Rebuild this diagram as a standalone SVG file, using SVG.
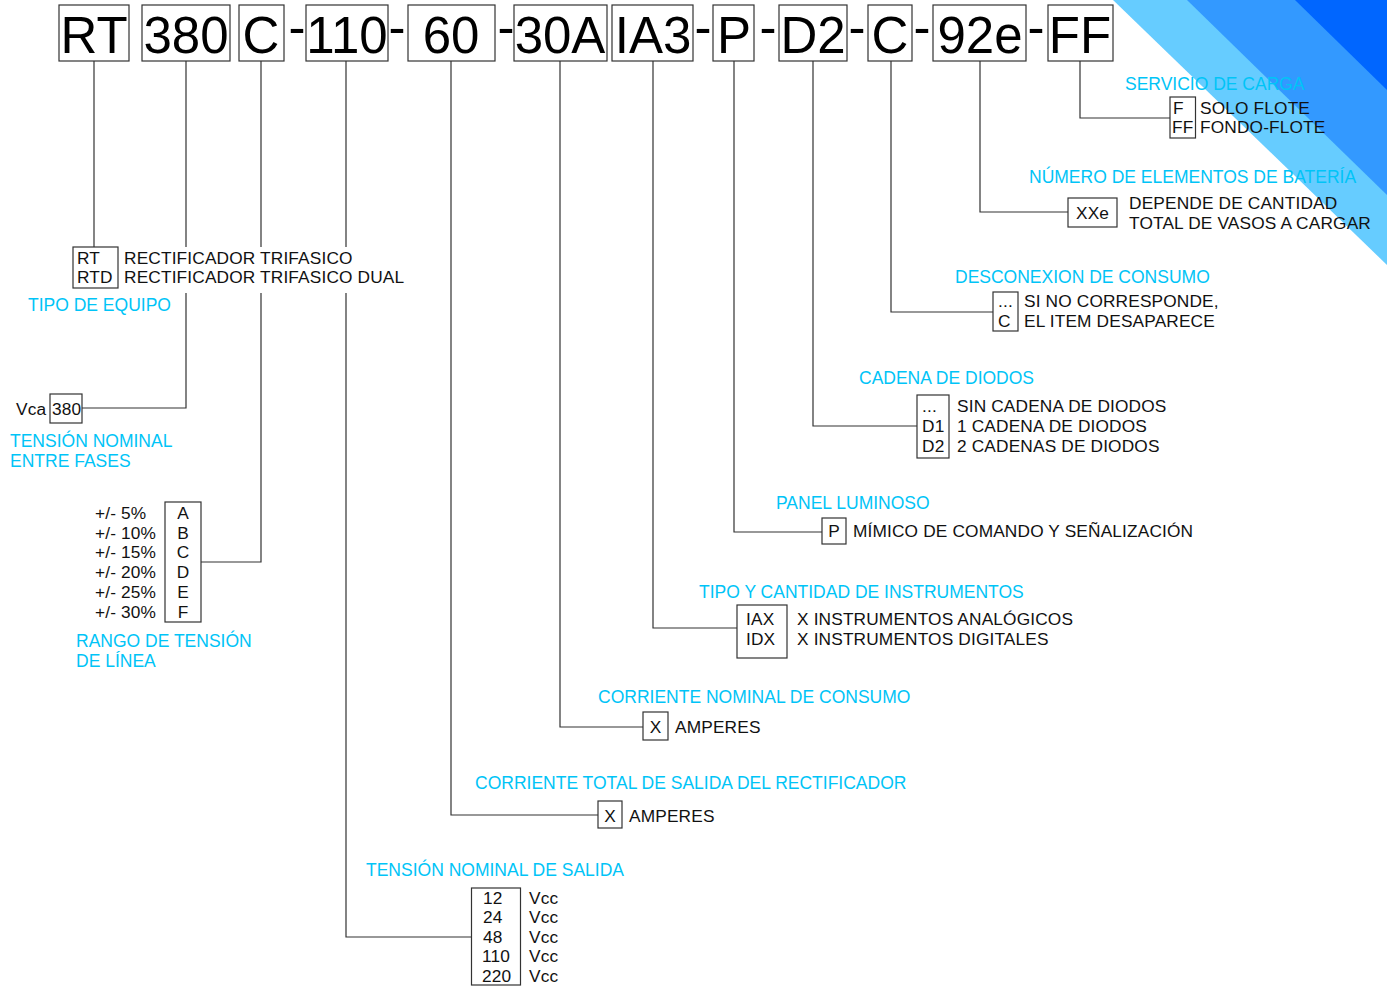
<svg xmlns="http://www.w3.org/2000/svg" width="1387" height="986" viewBox="0 0 1387 986">
<style>
.bx{fill:none;stroke:#333;stroke-width:1.2}
.ln{fill:none;stroke:#333;stroke-width:1.2}
.hd{font-family:"Liberation Sans",Arial,sans-serif;font-size:51px;fill:#000;text-anchor:middle}
.t{font-family:"Liberation Sans",Arial,sans-serif;font-size:17.3px;fill:#111;letter-spacing:0.15px}
.c{font-family:"Liberation Sans",Arial,sans-serif;font-size:17.5px;fill:#00C4F7}
.m{text-anchor:middle}
</style>
<rect width="1387" height="986" fill="#fff"/>
<g id="corner">
<polygon points="1113,0 1387,0 1387,265" fill="#66CCFF"/>
<polygon points="1187,0 1387,0 1387,195" fill="#3399FF"/>
<polygon points="1295,0 1387,0 1387,90" fill="#0066FF"/>
</g>
<g id="connectors">
<path class="ln" d="M94,61V247"/>
<path class="ln" d="M186,61V247M186,293V408H82"/>
<path class="ln" d="M261,61V247M261,293V562H201"/>
<path class="ln" d="M346,61V247M346,293V937H471"/>
<path class="ln" d="M451,61V815H598"/>
<path class="ln" d="M560,61V727H643"/>
<path class="ln" d="M653,61V628H737"/>
<path class="ln" d="M734,61V532H822"/>
<path class="ln" d="M813,61V426H917"/>
<path class="ln" d="M891,61V312H993"/>
<path class="ln" d="M980,61V212H1068"/>
<path class="ln" d="M1080,61V118H1170"/>
</g>
<g id="header">
<rect class="bx" x="59" y="5" width="70" height="56"/><text class="hd" x="94" y="53">RT</text>
<rect class="bx" x="142" y="5" width="88" height="56"/><text class="hd" x="186" y="53">380</text>
<rect class="bx" x="239" y="5" width="45" height="56"/><text class="hd" x="261" y="53">C</text>
<text class="hd" x="297" y="45">-</text>
<rect class="bx" x="306" y="5" width="82" height="56"/><text class="hd" x="347" y="53">110</text>
<text class="hd" x="397" y="45">-</text>
<rect class="bx" x="408" y="5" width="87" height="56"/><text class="hd" x="451" y="53">60</text>
<text class="hd" x="506" y="45">-</text>
<rect class="bx" x="514" y="5" width="93" height="56"/><text class="hd" x="560" y="53">30A</text>
<rect class="bx" x="612" y="5" width="81" height="56"/><text class="hd" x="653" y="53">IA3</text>
<text class="hd" x="703" y="45">-</text>
<rect class="bx" x="713" y="5" width="41" height="56"/><text class="hd" x="734" y="53">P</text>
<text class="hd" x="768" y="45">-</text>
<rect class="bx" x="779" y="5" width="68" height="56"/><text class="hd" x="813" y="53">D2</text>
<text class="hd" x="857" y="45">-</text>
<rect class="bx" x="868" y="5" width="44" height="56"/><text class="hd" x="890" y="53">C</text>
<text class="hd" x="922" y="45">-</text>
<rect class="bx" x="933" y="5" width="93" height="56"/><text class="hd" x="980" y="53">92e</text>
<text class="hd" x="1036" y="45">-</text>
<rect class="bx" x="1048" y="5" width="65" height="56"/><text class="hd" x="1080" y="53">FF</text>
</g>
<g id="tipo-equipo">
<rect class="bx" x="73" y="247" width="45" height="41"/>
<text class="t" x="77" y="264">RT</text><text class="t" x="77" y="283">RTD</text>
<text class="t" x="124" y="264">RECTIFICADOR TRIFASICO</text>
<text class="t" x="124" y="283">RECTIFICADOR TRIFASICO DUAL</text>
<text class="c" x="28" y="311">TIPO DE EQUIPO</text>
</g>
<g id="tension-fases">
<text class="t" x="16" y="415">Vca</text>
<rect class="bx" x="50" y="394" width="32" height="29"/>
<text class="t" x="52" y="415">380</text>
<text class="c" x="10" y="447">TENSIÓN NOMINAL</text>
<text class="c" x="10" y="467">ENTRE FASES</text>
</g>
<g id="rango-tension">
<rect class="bx" x="165" y="502" width="36" height="120"/>
<text class="t" x="95" y="519">+/- 5%</text><text class="t m" x="183" y="519">A</text>
<text class="t" x="95" y="538.7">+/- 10%</text><text class="t m" x="183" y="538.7">B</text>
<text class="t" x="95" y="558.4">+/- 15%</text><text class="t m" x="183" y="558.4">C</text>
<text class="t" x="95" y="578.1">+/- 20%</text><text class="t m" x="183" y="578.1">D</text>
<text class="t" x="95" y="597.8">+/- 25%</text><text class="t m" x="183" y="597.8">E</text>
<text class="t" x="95" y="617.5">+/- 30%</text><text class="t m" x="183" y="617.5">F</text>
<text class="c" x="76" y="647">RANGO DE TENSIÓN</text>
<text class="c" x="76" y="667">DE LÍNEA</text>
</g>
<g id="tension-salida">
<text class="c" x="366" y="876">TENSIÓN NOMINAL DE SALIDA</text>
<rect class="bx" x="471.5" y="888" width="49" height="97"/>
<text class="t" x="483" y="903.5">12</text><text class="t" x="529" y="903.5">Vcc</text>
<text class="t" x="483" y="923.1">24</text><text class="t" x="529" y="923.1">Vcc</text>
<text class="t" x="483" y="942.7">48</text><text class="t" x="529" y="942.7">Vcc</text>
<text class="t" x="482" y="962.3">110</text><text class="t" x="529" y="962.3">Vcc</text>
<text class="t" x="482" y="981.9">220</text><text class="t" x="529" y="981.9">Vcc</text>
</g>
<g id="corriente-total">
<text class="c" x="475" y="789">CORRIENTE TOTAL DE SALIDA DEL RECTIFICADOR</text>
<rect class="bx" x="598" y="801" width="24" height="27"/>
<text class="t m" x="610" y="821.5">X</text>
<text class="t" x="629" y="821.5">AMPERES</text>
</g>
<g id="corriente-consumo">
<text class="c" x="598" y="703">CORRIENTE NOMINAL DE CONSUMO</text>
<rect class="bx" x="643" y="712" width="25" height="28"/>
<text class="t m" x="655.5" y="733">X</text>
<text class="t" x="675" y="733">AMPERES</text>
</g>
<g id="instrumentos">
<text class="c" x="699" y="598">TIPO Y CANTIDAD DE INSTRUMENTOS</text>
<rect class="bx" x="737" y="605" width="50" height="53"/>
<text class="t" x="746" y="625">IAX</text><text class="t" x="746" y="644.5">IDX</text>
<text class="t" x="797" y="625">X INSTRUMENTOS ANALÓGICOS</text>
<text class="t" x="797" y="644.5">X INSTRUMENTOS DIGITALES</text>
</g>
<g id="panel">
<text class="c" x="776" y="509">PANEL LUMINOSO</text>
<rect class="bx" x="822" y="518" width="24" height="26"/>
<text class="t m" x="834" y="537">P</text>
<text class="t" x="853" y="537">MÍMICO DE COMANDO Y SEÑALIZACIÓN</text>
</g>
<g id="diodos">
<text class="c" x="859" y="384">CADENA DE DIODOS</text>
<rect class="bx" x="917" y="395" width="32" height="63"/>
<text class="t" x="922" y="412">...</text><text class="t" x="922" y="432">D1</text><text class="t" x="922" y="451.5">D2</text>
<text class="t" x="957" y="412">SIN CADENA DE DIODOS</text>
<text class="t" x="957" y="432">1 CADENA DE DIODOS</text>
<text class="t" x="957" y="451.5">2 CADENAS DE DIODOS</text>
</g>
<g id="desconexion">
<text class="c" x="955" y="283">DESCONEXION DE CONSUMO</text>
<rect class="bx" x="993" y="292" width="25" height="39"/>
<text class="t" x="998" y="307">...</text><text class="t" x="998" y="326.5">C</text>
<text class="t" x="1024" y="307">SI NO CORRESPONDE,</text>
<text class="t" x="1024" y="326.5">EL ITEM DESAPARECE</text>
</g>
<g id="bateria">
<text class="c" x="1029" y="183">NÚMERO DE ELEMENTOS DE BATERÍA</text>
<rect class="bx" x="1068" y="198" width="49" height="29"/>
<text class="t" x="1076" y="218.5">XXe</text>
<text class="t" x="1129" y="209">DEPENDE DE CANTIDAD</text>
<text class="t" x="1129" y="229">TOTAL DE VASOS A CARGAR</text>
</g>
<g id="servicio">
<text class="c" x="1125" y="90">SERVICIO DE CARGA</text>
<rect class="bx" x="1170" y="97" width="25.5" height="41"/>
<text class="t" x="1173" y="113.5">F</text><text class="t" x="1172" y="133">FF</text>
<text class="t" x="1200" y="113.5">SOLO FLOTE</text>
<text class="t" x="1200" y="133">FONDO-FLOTE</text>
</g>
</svg>
